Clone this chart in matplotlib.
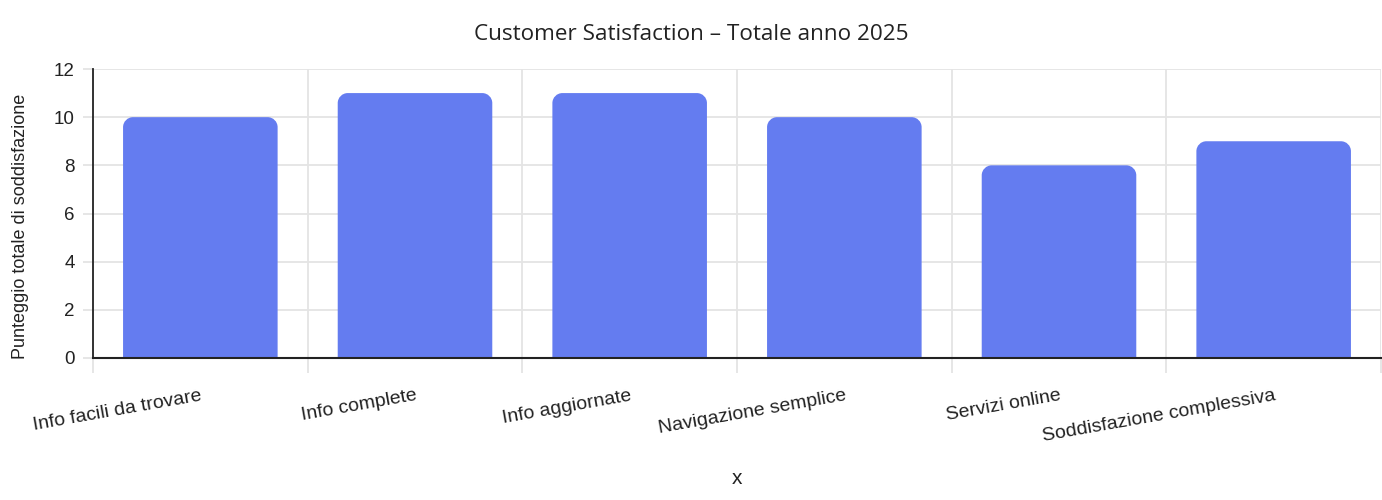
import matplotlib
matplotlib.use("Agg")
import matplotlib.pyplot as plt
from matplotlib.path import Path
from matplotlib.patches import PathPatch
from matplotlib.ticker import FixedLocator

categories = ["Info facili da trovare", "Info complete", "Info aggiornate",
              "Navigazione semplice", "Servizi online", "Soddisfazione complessiva"]
values = [10, 11, 11, 10, 8, 9]
yticks = [0, 2, 4, 6, 8, 10, 12]

TITLE = "Customer Satisfaction \u2013 Totale anno 2025"
YLABEL = "Punteggio totale di soddisfazione"
XLABEL = "x"

BAR_COLOR = "#647cf0"
GRID = "#e4e4e4"
TXT = "#222222"

W, H, DPI = 1382, 500, 100
fig = plt.figure(figsize=(W / DPI, H / DPI), dpi=DPI)
L, R, T, B = 93, 1381, 69, 358
ax = fig.add_axes([L / W, 1 - B / H, (R - L) / W, (B - T) / H])

n = len(categories)
xs = list(range(n))
ax.set_xlim(-0.5, n - 0.5)
ax.set_ylim(0, 12)

bars = ax.bar(xs, values, width=0.72, color=BAR_COLOR, zorder=3)

# rounded top corners
px_per_x = (R - L) / n
px_per_y = (B - T) / 12.0
r_px = 10
for rect in bars:
    x0 = rect.get_x(); w = rect.get_width(); h = rect.get_height()
    rx = r_px / px_per_x; ry = r_px / px_per_y
    x1 = x0 + w
    k = 0.5523
    verts = [(x0, 0), (x0, h - ry),
             (x0, h - ry + k * ry), (x0 + rx - k * rx, h), (x0 + rx, h),
             (x1 - rx, h),
             (x1 - rx + k * rx, h), (x1, h - ry + k * ry), (x1, h - ry),
             (x1, 0), (x0, 0)]
    codes = [Path.MOVETO, Path.LINETO,
             Path.CURVE4, Path.CURVE4, Path.CURVE4,
             Path.LINETO,
             Path.CURVE4, Path.CURVE4, Path.CURVE4,
             Path.LINETO, Path.CLOSEPOLY]
    rect.set_visible(False)
    ax.add_patch(PathPatch(Path(verts, codes), facecolor=BAR_COLOR,
                           edgecolor="none", zorder=3))

# grid
ax.set_yticks(yticks)
ax.yaxis.grid(True, color=GRID, linewidth=1.3, zorder=0)
ax.xaxis.set_minor_locator(FixedLocator([i - 0.5 for i in range(n + 1)]))
ax.xaxis.grid(True, which="minor", color=GRID, linewidth=1.3, zorder=0)
ax.set_axisbelow(True)

ax.set_xticks(xs)
ax.set_xticklabels(categories, rotation=10, ha="right", va="top",
                   rotation_mode="anchor", fontsize=14, color=TXT,
                   family="Liberation Sans")
ax.tick_params(axis="x", which="major", length=0, pad=21)
ax.tick_params(axis="x", which="minor", length=11, width=1.3, color=GRID)
ax.tick_params(axis="y", length=7, width=1.3, color=GRID, pad=6,
               labelsize=13.5, labelcolor=TXT)
for lab in ax.get_yticklabels():
    lab.set_family("Liberation Sans")

for s in ["top", "right"]:
    ax.spines[s].set_visible(False)
ax.spines["left"].set_color("#222222")
ax.spines["bottom"].set_color("#222222")
ax.spines["left"].set_linewidth(1.3)
ax.spines["bottom"].set_linewidth(1.5)
ax.spines["left"].set_zorder(4)
ax.spines["bottom"].set_zorder(4)

fig.text(0.5, 1 - 34 / H, TITLE, ha="center", va="center",
         fontsize=16.2, color=TXT, family="Open Sans")
fig.text(21 / W, 1 - 226 / H, YLABEL, rotation=90, ha="center",
         va="center", fontsize=13, color=TXT, family="Liberation Sans")
fig.text((L + R) / 2 / W, 1 - 478 / H, XLABEL, ha="center", va="center",
         fontsize=15, color=TXT, family="Liberation Sans")

fig.savefig("out.png", dpi=DPI, facecolor="white")
